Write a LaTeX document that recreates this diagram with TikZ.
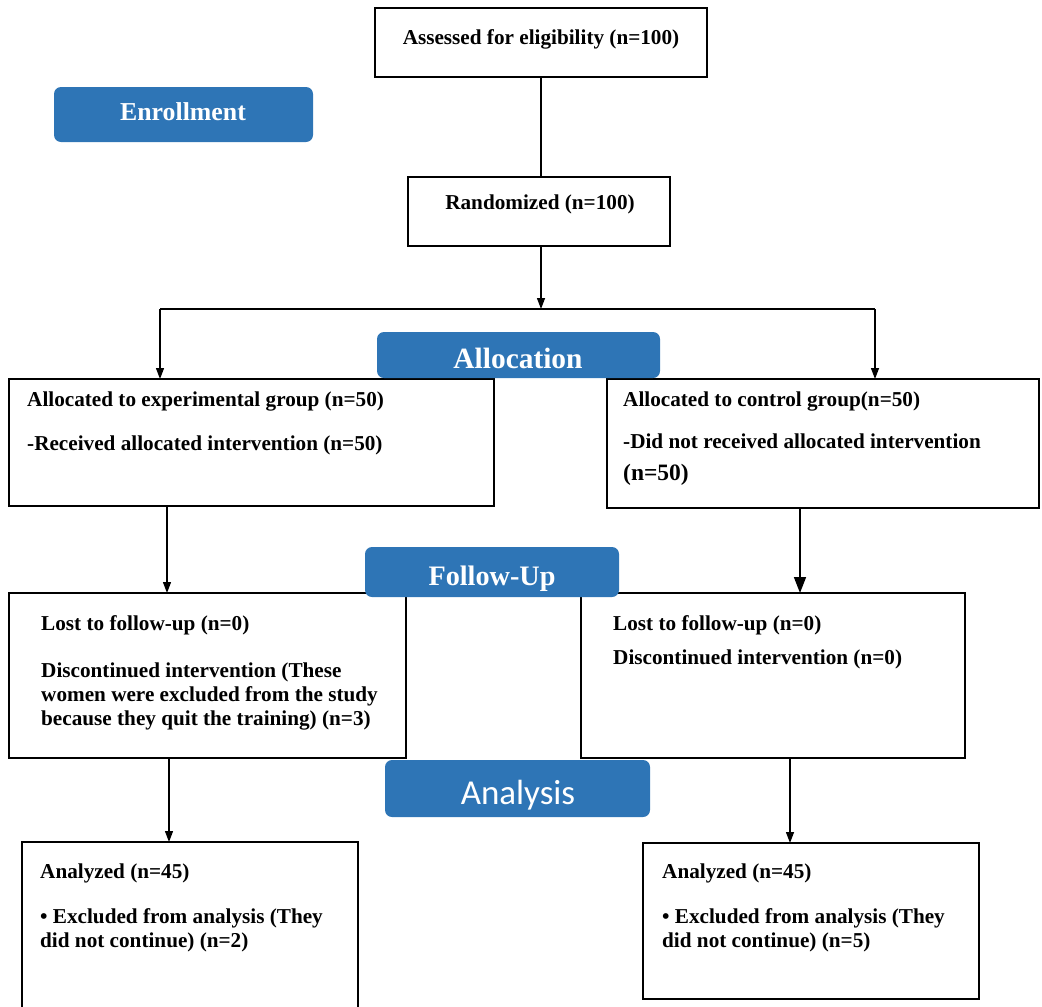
\documentclass[tikz,border=0pt]{standalone}
\usepackage{fontspec}
\setmainfont{Liberation Serif}
\newfontfamily\calfont{Carlito}
\usetikzlibrary{arrows.meta}
\definecolor{cblue}{RGB}{46,117,182}
\begin{document}
\begin{tikzpicture}[x=1pt,y=-1pt,
 outbox/.style={draw, line width=2.6pt, anchor=north west, inner sep=0pt, outer sep=0pt},
 stagebox/.style={fill=cblue, rounded corners=7pt, anchor=north west, inner sep=0pt, outer sep=0pt},
 stagetext/.style={text=white, font=\bfseries\fontsize{28.5}{32}\selectfont, anchor=base, inner sep=0pt},
 bodytext/.style={anchor=base west, inner sep=0pt, font=\bfseries\fontsize{21.2}{24}\selectfont},
 conn/.style={line width=1.3pt},
 arr/.style={line width=1.3pt, -{Triangle[width=8pt,length=11pt]}},
 arrbig/.style={line width=1.6pt, -{Triangle[width=12pt,length=16pt]}},
]
\useasboundingbox (0,0) rectangle (1042,1007);
\clip (0,0) rectangle (1042,1007);

% boxes
\node[outbox, minimum width=332pt, minimum height=69pt] (assess) at (375,8) {};
\node[outbox, minimum width=262pt, minimum height=69pt] (rand) at (408,177) {};
\node[outbox, minimum width=485pt, minimum height=127pt] (allocL) at (9,379) {};
\node[outbox, minimum width=432pt, minimum height=129pt] (allocR) at (607,379) {};
\node[outbox, minimum width=397pt, minimum height=165pt] (folL) at (9,593) {};
\node[outbox, minimum width=384pt, minimum height=165pt] (folR) at (581,593) {};
\node[outbox, minimum width=336pt, minimum height=185pt] (anaL) at (22,842) {};
\node[outbox, minimum width=336pt, minimum height=156pt] (anaR) at (643,843) {};

% stage labels
\node[stagebox, minimum width=259pt, minimum height=55pt] (enroll) at (54,87) {};
\node[stagebox, minimum width=283pt, minimum height=46pt] (allocTag) at (377,332) {};
\node[stagebox, minimum width=254pt, minimum height=50pt] (followTag) at (365,547) {};
\node[stagebox, minimum width=265pt, minimum height=57pt] (anaTag) at (385,760) {};

\node[stagetext, font=\bfseries\fontsize{25.8}{29}\selectfont] (tEnroll) at (183,120) {Enrollment};
\node[stagetext, font=\bfseries\fontsize{29.4}{32}\selectfont] (tAlloc) at (518,368) {Allocation};
\node[stagetext, font=\bfseries\fontsize{28.2}{32}\selectfont] (tFollow) at (492,585) {Follow-Up};
\node[stagetext, font=\calfont\fontsize{35}{38}\selectfont] (tAna) at (518,804) {Analysis};

% texts
\node[bodytext, anchor=base] (t1) at (541,44) {Assessed for eligibility (n=100)};
\node[bodytext, anchor=base] (t2) at (540,209) {Randomized (n=100)};

\node[bodytext] (t3) at (27,406) {Allocated to experimental group (n=50)};
\node[bodytext] (t4) at (27,450) {-Received allocated intervention (n=50)};

\node[bodytext] (t5) at (623,406) {Allocated to control group(n=50)};
\node[bodytext] (t6) at (623,448) {-Did not received allocated intervention};
\node[bodytext, font=\bfseries\fontsize{23.5}{26}\selectfont] (t7) at (623,480) {(n=50)};

\node[bodytext] (t8) at (41,630) {Lost to follow-up (n=0)};
\node[bodytext] (t9) at (41,677) {Discontinued intervention (These};
\node[bodytext] (t10) at (41,701) {women were excluded from the study};
\node[bodytext] (t11) at (41,725) {because they quit the training) (n=3)};

\node[bodytext] (t12) at (613,630) {Lost to follow-up (n=0)};
\node[bodytext] (t13) at (613,664) {Discontinued intervention (n=0)};

\node[bodytext] (t14) at (40,878) {Analyzed (n=45)};
\node[bodytext] (t15) at (40,923) {\textbullet\ Excluded from analysis (They};
\node[bodytext] (t16) at (40,947) {did not continue) (n=2)};

\node[bodytext] (t17) at (662,878) {Analyzed (n=45)};
\node[bodytext] (t18) at (662,923) {\textbullet\ Excluded from analysis (They};
\node[bodytext] (t19) at (662,947) {did not continue) (n=5)};

% connectors
\coordinate (split) at (541,309);
\coordinate (sL) at (160,309);
\coordinate (sR) at (875,309);
\coordinate (aL) at (167,0);
\coordinate (aR) at (800,0);
\coordinate (bL) at (169,0);
\coordinate (bR) at (790,0);

\draw[conn, line width=2.2pt] (assess.south) -- (assess.south |- rand.north);
\draw[arr] (rand.south -| split) -- (split);
\draw[conn] (sL) -- (sR);
\draw[arr] (sL) -- (sL |- allocL.north);
\draw[arr] (sR) -- (sR |- allocR.north);
\draw[arr] (aL |- allocL.south) -- (aL |- folL.north);
\draw[arrbig] (aR |- allocR.south) -- (aR |- folR.north);
\draw[arr] (bL |- folL.south) -- (bL |- anaL.north);
\draw[arr] (bR |- folR.south) -- (bR |- anaR.north);
\end{tikzpicture}
\end{document}
